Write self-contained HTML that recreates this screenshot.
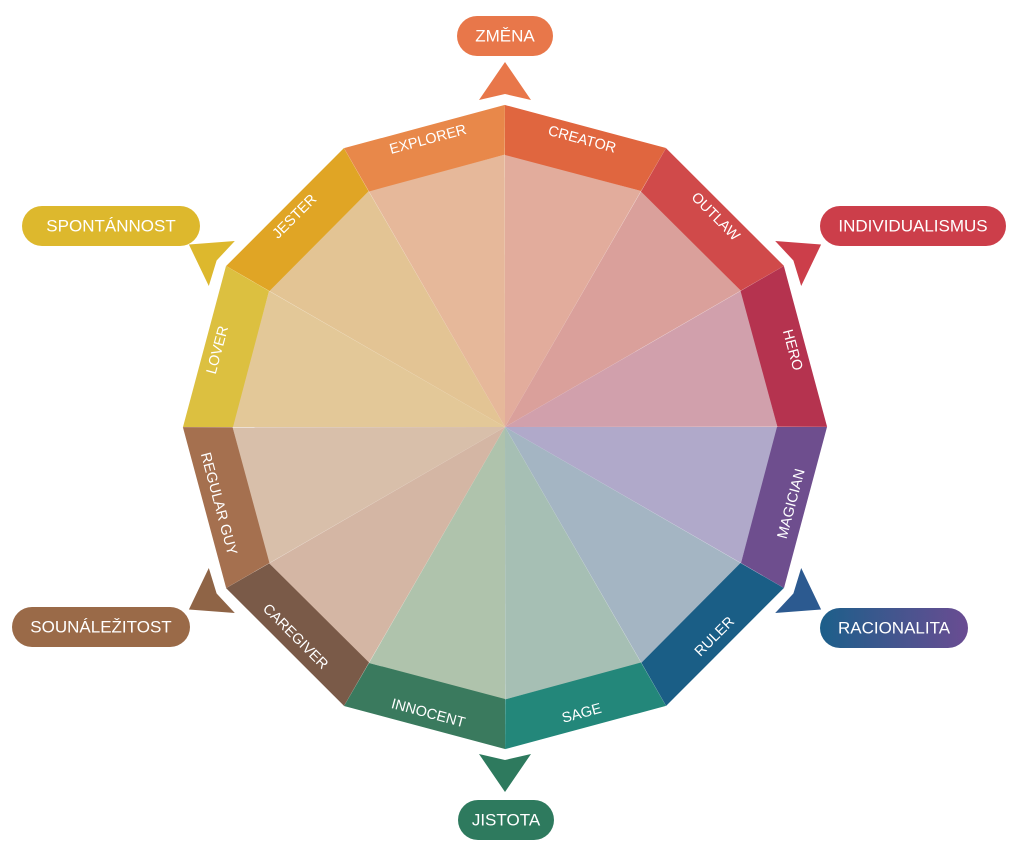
<!DOCTYPE html>
<html><head><meta charset="utf-8"><style>
html,body{margin:0;padding:0;background:#fff;}
svg{display:block;}
text{font-family:"Liberation Sans",sans-serif;fill:#fff;}
</style></head><body>
<svg width="1024" height="848" viewBox="0 0 1024 848" xmlns="http://www.w3.org/2000/svg">
<defs>
<linearGradient id="rg" x1="0" x2="1" y1="0" y2="0"><stop offset="0" stop-color="#1C5F8A"/><stop offset="1" stop-color="#6A4C92"/></linearGradient>
</defs>
<g transform="translate(505,427)">
<g transform="rotate(0)"><polygon points="0,0 0,-273 136,-236" fill="#E2AC9C"/><polygon points="0,-272 0,-322 161,-279 136,-236" fill="#E0663F"/><text x="76.9" y="-286.9" transform="rotate(15 76.9 -286.9)" font-size="14.5" text-anchor="middle" dominant-baseline="middle">CREATOR</text></g>
<g transform="rotate(30)"><polygon points="0,0 0,-273 136,-236" fill="#DAA09B"/><polygon points="0,-272 0,-322 161,-279 136,-236" fill="#D04A4A"/><text x="76.9" y="-286.9" transform="rotate(15 76.9 -286.9)" font-size="14.5" text-anchor="middle" dominant-baseline="middle">OUTLAW</text></g>
<g transform="rotate(60)"><polygon points="0,0 0,-273 136,-236" fill="#D1A0AC"/><polygon points="0,-272 0,-322 161,-279 136,-236" fill="#B5334F"/><text x="76.9" y="-286.9" transform="rotate(15 76.9 -286.9)" font-size="14.5" text-anchor="middle" dominant-baseline="middle">HERO</text></g>
<g transform="rotate(90)"><polygon points="0,0 0,-273 136,-236" fill="#B0A9CA"/><polygon points="0,-272 0,-322 161,-279 136,-236" fill="#6E4E8E"/><text x="76.9" y="-286.9" transform="rotate(195 76.9 -286.9)" font-size="14.5" text-anchor="middle" dominant-baseline="middle">MAGICIAN</text></g>
<g transform="rotate(120)"><polygon points="0,0 0,-273 136,-236" fill="#A4B5C3"/><polygon points="0,-272 0,-322 161,-279 136,-236" fill="#1A5E86"/><text x="76.9" y="-286.9" transform="rotate(195 76.9 -286.9)" font-size="14.5" text-anchor="middle" dominant-baseline="middle">RULER</text></g>
<g transform="rotate(150)"><polygon points="0,0 0,-273 136,-236" fill="#A6BFB4"/><polygon points="0,-272 0,-322 161,-279 136,-236" fill="#23877A"/><text x="76.9" y="-286.9" transform="rotate(195 76.9 -286.9)" font-size="14.5" text-anchor="middle" dominant-baseline="middle">SAGE</text></g>
<g transform="rotate(180)"><polygon points="0,0 0,-273 136,-236" fill="#AFC3AC"/><polygon points="0,-272 0,-322 161,-279 136,-236" fill="#3A7A5E"/><text x="76.9" y="-286.9" transform="rotate(195 76.9 -286.9)" font-size="14.5" text-anchor="middle" dominant-baseline="middle">INNOCENT</text></g>
<g transform="rotate(210)"><polygon points="0,0 0,-273 136,-236" fill="#D4B6A4"/><polygon points="0,-272 0,-322 161,-279 136,-236" fill="#7A5A48"/><text x="76.9" y="-286.9" transform="rotate(195 76.9 -286.9)" font-size="14.5" text-anchor="middle" dominant-baseline="middle">CAREGIVER</text></g>
<g transform="rotate(240)"><polygon points="0,0 0,-273 136,-236" fill="#D8BFAA"/><polygon points="0,-272 0,-322 161,-279 136,-236" fill="#A5704F"/><text x="76.9" y="-286.9" transform="rotate(195 76.9 -286.9)" font-size="14.5" text-anchor="middle" dominant-baseline="middle">REGULAR GUY</text></g>
<g transform="rotate(270)"><polygon points="0,0 0,-273 136,-236" fill="#E3C898"/><polygon points="0,-272 0,-322 161,-279 136,-236" fill="#DCC040"/><text x="76.9" y="-286.9" transform="rotate(15 76.9 -286.9)" font-size="14.5" text-anchor="middle" dominant-baseline="middle">LOVER</text></g>
<g transform="rotate(300)"><polygon points="0,0 0,-273 136,-236" fill="#E3C494"/><polygon points="0,-272 0,-322 161,-279 136,-236" fill="#E0A525"/><text x="76.9" y="-286.9" transform="rotate(15 76.9 -286.9)" font-size="14.5" text-anchor="middle" dominant-baseline="middle">JESTER</text></g>
<g transform="rotate(330)"><polygon points="0,0 0,-273 136,-236" fill="#E6B89A"/><polygon points="0,-272 0,-322 161,-279 136,-236" fill="#E8884A"/><text x="76.9" y="-286.9" transform="rotate(15 76.9 -286.9)" font-size="14.5" text-anchor="middle" dominant-baseline="middle">EXPLORER</text></g>
<g transform="rotate(0)"><polygon points="0,-365 26,-327 0,-333 -26,-327" fill="#E8774A" stroke="#fff" stroke-width="5" paint-order="stroke" stroke-linejoin="miter"/></g>
<g transform="rotate(60)"><polygon points="0,-365 26,-327 0,-333 -26,-327" fill="#CC3E4A" stroke="#fff" stroke-width="5" paint-order="stroke"/></g>
<g transform="rotate(120)"><polygon points="0,-365 26,-327 0,-333 -26,-327" fill="#2C5A90" stroke="#fff" stroke-width="5" paint-order="stroke"/></g>
<g transform="rotate(180)"><polygon points="0,-365 26,-327 0,-333 -26,-327" fill="#2E7A5E" stroke="#fff" stroke-width="5" paint-order="stroke"/></g>
<g transform="rotate(240)"><polygon points="0,-365 26,-327 0,-333 -26,-327" fill="#8F6446" stroke="#fff" stroke-width="5" paint-order="stroke"/></g>
<g transform="rotate(300)"><polygon points="0,-365 26,-327 0,-333 -26,-327" fill="#DDB82D" stroke="#fff" stroke-width="5" paint-order="stroke"/></g>
</g>
<rect x="457" y="16" width="96" height="40" rx="20" fill="#E8774A"/>
<text x="505" y="37" font-size="17" text-anchor="middle" dominant-baseline="middle">ZMĚNA</text>
<rect x="820" y="206" width="186" height="40" rx="20" fill="#CC3E4A"/>
<text x="913" y="227" font-size="17" text-anchor="middle" dominant-baseline="middle">INDIVIDUALISMUS</text>
<rect x="820" y="608" width="148" height="40" rx="20" fill="url(#rg)"/>
<text x="894" y="629" font-size="17" text-anchor="middle" dominant-baseline="middle">RACIONALITA</text>
<rect x="458" y="800" width="96" height="40" rx="20" fill="#2E7A5E"/>
<text x="506" y="821" font-size="17" text-anchor="middle" dominant-baseline="middle">JISTOTA</text>
<rect x="12" y="607" width="178" height="40" rx="20" fill="#9A6A48"/>
<text x="101" y="628" font-size="17" text-anchor="middle" dominant-baseline="middle">SOUNÁLEŽITOST</text>
<rect x="22" y="206" width="178" height="40" rx="20" fill="#DDB82D"/>
<text x="111" y="227" font-size="17" text-anchor="middle" dominant-baseline="middle">SPONTÁNNOST</text>
</svg>
</body></html>
